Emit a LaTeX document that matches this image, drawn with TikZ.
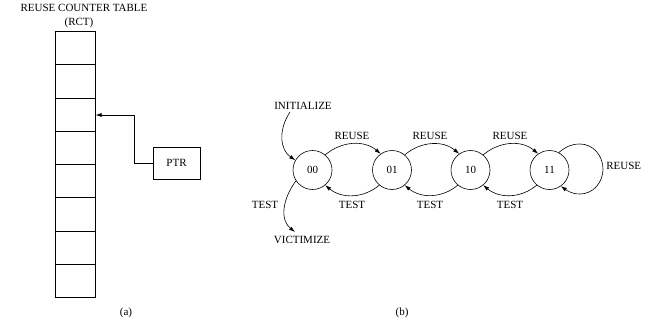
\documentclass[tikz,border=0pt]{standalone}
\usepackage{fontspec}
\setmainfont{Liberation Serif}
\usetikzlibrary{arrows.meta,calc}
\begin{document}
\begin{tikzpicture}[x=1pt,y=-1pt,
  lbl/.style={inner sep=0pt,font=\fontsize{11}{13}\selectfont},
  state/.style={draw,circle,minimum size=39pt,inner sep=0pt,font=\fontsize{11}{13}\selectfont},
  cell/.style={draw,minimum width=40pt,minimum height=33.25pt,inner sep=0pt,anchor=north west},
  arr/.style={-{Latex[length=6pt,width=4pt]},line width=0.6pt},
  every path/.style={line width=0.6pt}]
\useasboundingbox (0,0) rectangle (652,325);
% (a) table
\node[lbl] (title) at (84,8) {REUSE COUNTER TABLE};
\node[lbl] (rct) at (79,23) {(RCT)};
\foreach \i in {0,...,7} {
  \node[cell] (c\i) at (55,{31+33.25*\i}) {};
}
\node[draw,minimum width=47pt,minimum height=32pt,inner sep=0pt,font=\fontsize{11}{13}\selectfont] (ptr) at (176.5,163) {PTR};
\coordinate (tgt) at (95,115);
\draw[arr] (ptr.west) -- (134,163) -- (134,115) -- (c2.east |- tgt);
\node[lbl] (capa) at (126,313) {(a)};
% (b) state diagram
\node[state] (s00) at (312.5,170) {00};
\node[state] (s01) at (392,170) {01};
\node[state] (s10) at (470.5,170) {10};
\node[state] (s11) at (549.5,170) {11};
\foreach \a/\b in {s00/s01,s01/s10,s10/s11} {
  \draw[arr] (\a.50) to[out=40,in=140] (\b.125);
  \draw[arr] (\b.230) to[out=220,in=-40] (\a.-50);
}
\foreach \x in {352,430,510} {
  \node[lbl] at (\x,136) {REUSE};
  \node[lbl] at (\x,205) {TEST};
}
\coordinate (lt) at (580,144);
\coordinate (lr) at (603,169);
\coordinate (lb) at (580,194);
\draw[arr] (s11.62) to[out=40,in=180] (lt) to[out=0,in=90] (lr)
  to[out=-90,in=0] (lb) to[out=180,in=-35] (s11.-55);
\node[lbl,anchor=west] (rl) at (606,166) {REUSE};
\node[lbl] (init) at (303,106) {INITIALIZE};
\coordinate (ia) at (290,112);
\draw[arr] (ia) .. controls (278,130) and (280,150) .. (s00.150);
\node[lbl] (vict) at (302,240) {VICTIMIZE};
\node[lbl] (tl) at (265,205) {TEST};
\coordinate (va) at (295,232);
\draw[arr] (s00.213) .. controls (282,200) and (280,220) .. (va);
\node[lbl] (capb) at (402,313) {(b)};
\end{tikzpicture}
\end{document}
